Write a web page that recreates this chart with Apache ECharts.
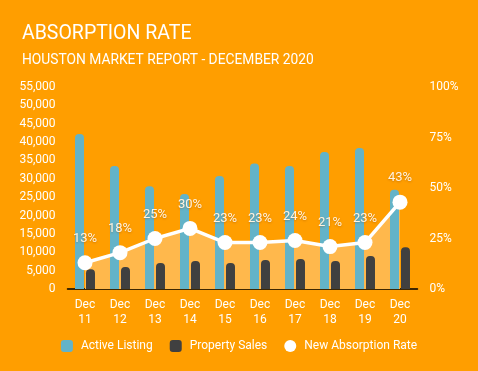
<!DOCTYPE html>
<html>
<head>
<meta charset="utf-8">
<script src="https://cdn.jsdelivr.net/npm/echarts@6/dist/echarts.min.js"></script>
<style>
html,body{margin:0;padding:0;background:#FF9E00;}
#c{width:478px;height:371px;}
</style>
</head>
<body>
<div id="c"></div>
<script>
const categories = ['Dec\n11','Dec\n12','Dec\n13','Dec\n14','Dec\n15','Dec\n16','Dec\n17','Dec\n18','Dec\n19','Dec\n20'];
const activeListing = [42200, 33500, 28000, 25900, 30800, 34200, 33500, 37300, 38400, 27000];
const propertySales = [5400, 6000, 7100, 7600, 7100, 7900, 8200, 7600, 9000, 11400];
const absorptionRate = [13, 18, 25, 30, 23, 23, 24, 21, 23, 43];

const font = 'Roboto, "Noto Sans", sans-serif';
const chart = echarts.init(document.getElementById('c'), null, {renderer:'canvas'});
chart.setOption({
  backgroundColor: '#FF9E00',
  animation: false,
  title: [
    {text: 'ABSORPTION RATE', left: 17, top: 19, textStyle: {color:'#fff', fontSize: 19.5, fontWeight: 'normal', fontFamily: font}},
    {text: 'HOUSTON MARKET REPORT - DECEMBER 2020', left: 17, top: 49, textStyle: {color:'#fff', fontSize: 13.8, fontWeight: 'normal', fontFamily: font}}
  ],
  grid: {left: 67.5, right: 60.5, top: 87, bottom: 82, containLabel: false},
  legend: {
    bottom: 14, left: 'center', itemWidth: 12, itemHeight: 12, itemGap: 17,
    textStyle: {color: '#fff', fontSize: 12, fontFamily: font, padding: [0,0,0,3]},
    data: [
      {name: 'Active Listing', icon: 'roundRect'},
      {name: 'Property Sales', icon: 'roundRect'},
      {name: 'New Absorption Rate', icon: 'circle'}
    ]
  },
  xAxis: {
    type: 'category', data: categories,
    axisLine: {lineStyle: {color: '#000', width: 1.5}},
    axisTick: {show: false},
    axisLabel: {color: '#fff', fontSize: 12, fontFamily: font, lineHeight: 15, margin: 8}
  },
  yAxis: [
    {type: 'value', min: 0, max: 55000, interval: 5000,
     splitLine: {show: false}, axisLine: {show: false}, axisTick: {show: false},
     axisLabel: {color: '#fff', fontSize: 12, fontFamily: font, margin: 12,
       formatter: v => v.toLocaleString('en-US')}},
    {type: 'value', min: 0, max: 100, interval: 25, position: 'right',
     splitLine: {show: false}, axisLine: {show: false}, axisTick: {show: false},
     axisLabel: {color: '#fff', fontSize: 12, fontFamily: font, margin: 12, formatter: '{value}%'}}
  ],
  series: [
    {name: 'Rate Area', type: 'line', yAxisIndex: 1, data: absorptionRate, z: 1,
     symbol: 'none', lineStyle: {width: 0}, areaStyle: {color: '#FFB84C', opacity: 1},
     silent: true, legendHoverLink: false},
    {name: 'Active Listing', type: 'bar', data: activeListing, barWidth: 9, barGap: '22%', z: 2,
     itemStyle: {color: '#63B3C8', borderRadius: [4,4,0,0]}},
    {name: 'Property Sales', type: 'bar', data: propertySales, barWidth: 9, z: 2,
     itemStyle: {color: '#404040', borderRadius: [4,4,0,0]}},
    {name: 'New Absorption Rate', type: 'line', yAxisIndex: 1, data: absorptionRate, z: 5,
     symbol: 'circle', symbolSize: 15,
     itemStyle: {color: '#fff'}, lineStyle: {color: '#fff', width: 3.5},
     label: {show: true, position: 'top', distance: 10, formatter: '{c}%', color: '#FFF3E0', fontSize: 13, fontFamily: font,
       textShadowColor: 'rgba(120,60,0,0.35)', textShadowBlur: 2, textShadowOffsetY: 1}}
  ]
});
</script>
</body>
</html>
